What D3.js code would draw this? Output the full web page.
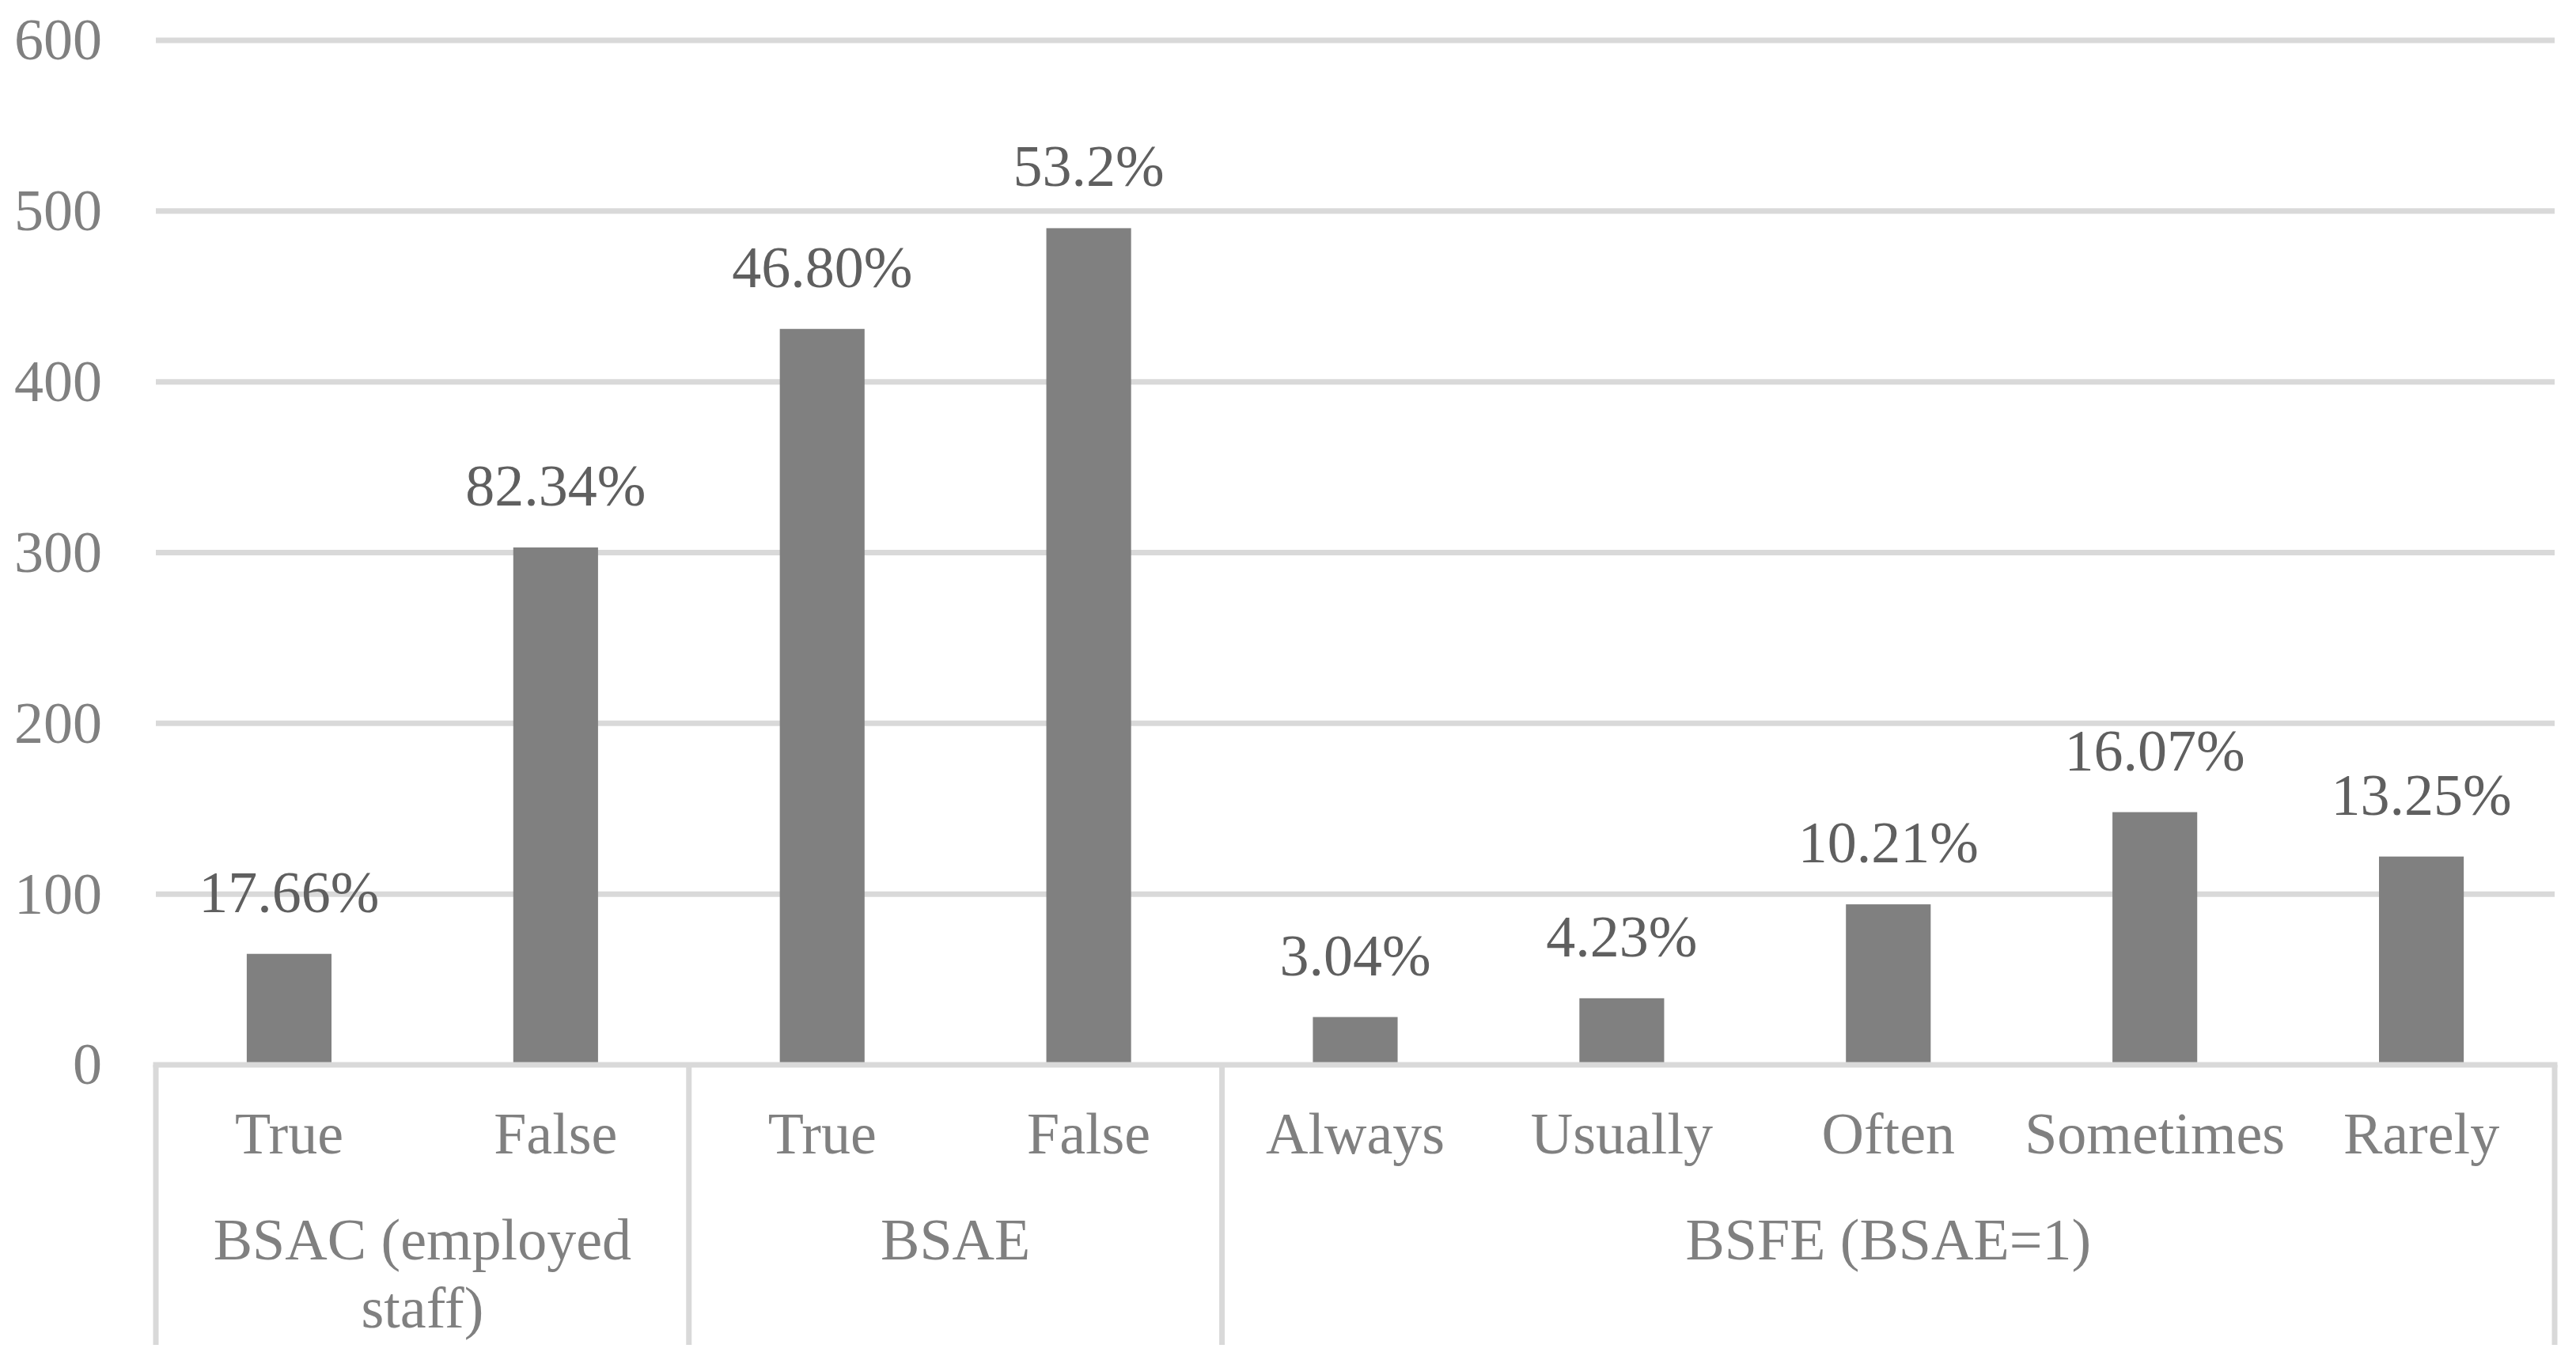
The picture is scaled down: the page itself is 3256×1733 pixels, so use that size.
<!DOCTYPE html>
<html>
<head>
<meta charset="utf-8">
<script src="https://cdn.jsdelivr.net/npm/d3@7"></script>
<style>
  html, body { margin: 0; padding: 0; background: #ffffff; }
  svg { display: block; }
  text { font-family: "Liberation Serif", "Times New Roman", serif; }
</style>
</head>
<body>
<svg id="chart" width="3256" height="1733"></svg>
<script>
// ---- data ----
const categories = ["True", "False", "True", "False", "Always", "Usually", "Often", "Sometimes", "Rarely"];
const groups = ["BSAC (employed staff)", "BSAC (employed staff)", "BSAE", "BSAE", "BSFE (BSAE=1)", "BSFE (BSAE=1)", "BSFE (BSAE=1)", "BSFE (BSAE=1)", "BSFE (BSAE=1)"];
const values = [65, 303, 431, 490, 28, 39, 94, 148, 122];
const labels = ["17.66%", "82.34%", "46.80%", "53.2%", "3.04%", "4.23%", "10.21%", "16.07%", "13.25%"];
const yTicks = [0, 100, 200, 300, 400, 500, 600];

// ---- layout ----
const W = 3256, H = 1733;
const plotLeft = 197, plotRight = 3229, yZero = 1346, yTop = 51, axisBottom = 1700;
const fontSize = 74;
const gridColor = "#d9d9d9", barColor = "#808080", tickColor = "#808080", labelColor = "#5f5f5f";

const svg = d3.select("#chart");
const idx = d3.range(categories.length);

const x = d3.scaleBand().domain(idx).range([plotLeft, plotRight]).padding(0);
const y = d3.scaleLinear().domain([0, 600]).range([yZero, yTop]);
const barW = x.bandwidth() * 0.318;

// gridlines
svg.append("g").selectAll("line").data(yTicks.filter(d => d > 0)).join("line")
  .attr("x1", plotLeft).attr("x2", plotRight)
  .attr("y1", d => y(d)).attr("y2", d => y(d))
  .attr("stroke", gridColor).attr("stroke-width", 7);

// y tick labels
svg.append("g").selectAll("text").data(yTicks).join("text")
  .attr("x", 129).attr("y", d => y(d)).attr("dy", "0.33em")
  .attr("text-anchor", "end")
  .attr("font-size", fontSize).attr("fill", tickColor)
  .text(d => d);

// bars
svg.append("g").selectAll("rect").data(idx).join("rect")
  .attr("x", i => x(i) + x.bandwidth() / 2 - barW / 2)
  .attr("width", barW)
  .attr("y", i => y(values[i]))
  .attr("height", i => y(0) - y(values[i]))
  .attr("fill", barColor);

// data labels
svg.append("g").selectAll("text").data(idx).join("text")
  .attr("x", i => x(i) + x.bandwidth() / 2)
  .attr("y", i => y(values[i]) - 53)
  .attr("text-anchor", "middle")
  .attr("font-size", fontSize).attr("fill", labelColor)
  .text(i => labels[i]);

// x axis line
svg.append("line")
  .attr("x1", plotLeft - 3.5).attr("x2", plotRight + 3.5)
  .attr("y1", yZero).attr("y2", yZero)
  .attr("stroke", gridColor).attr("stroke-width", 7);

// group spans
const groupNames = Array.from(new Set(groups));
const spans = groupNames.map(g => {
  const members = idx.filter(i => groups[i] === g);
  return { name: g, x0: x(members[0]), x1: x(members[members.length - 1]) + x.bandwidth() };
});

// separators
const seps = [plotLeft].concat(spans.map(s => s.x1));
svg.append("g").selectAll("line").data(seps).join("line")
  .attr("x1", d => d).attr("x2", d => d)
  .attr("y1", yZero).attr("y2", axisBottom)
  .attr("stroke", gridColor).attr("stroke-width", 7);

// category labels
svg.append("g").selectAll("text").data(idx).join("text")
  .attr("x", i => x(i) + x.bandwidth() / 2)
  .attr("y", 1458)
  .attr("text-anchor", "middle")
  .attr("font-size", fontSize).attr("fill", tickColor)
  .text(i => categories[i]);

// group labels with wrapping
const gl = svg.append("g").selectAll("text").data(spans).join("text")
  .attr("x", s => (s.x0 + s.x1) / 2)
  .attr("y", 1592)
  .attr("text-anchor", "middle")
  .attr("font-size", fontSize).attr("fill", tickColor);

gl.each(function(s) {
  const t = d3.select(this);
  const maxW = (s.x1 - s.x0) - 40;
  const words = s.name.split(" ");
  let line = [];
  let lineNo = 0;
  let tspan = t.append("tspan").attr("x", (s.x0 + s.x1) / 2).attr("dy", 0);
  words.forEach(w => {
    line.push(w);
    tspan.text(line.join(" "));
    if (tspan.node().getComputedTextLength() > maxW && line.length > 1) {
      line.pop();
      tspan.text(line.join(" "));
      line = [w];
      lineNo++;
      tspan = t.append("tspan").attr("x", (s.x0 + s.x1) / 2).attr("dy", 86).text(w);
    }
  });
});
</script>
</body>
</html>
